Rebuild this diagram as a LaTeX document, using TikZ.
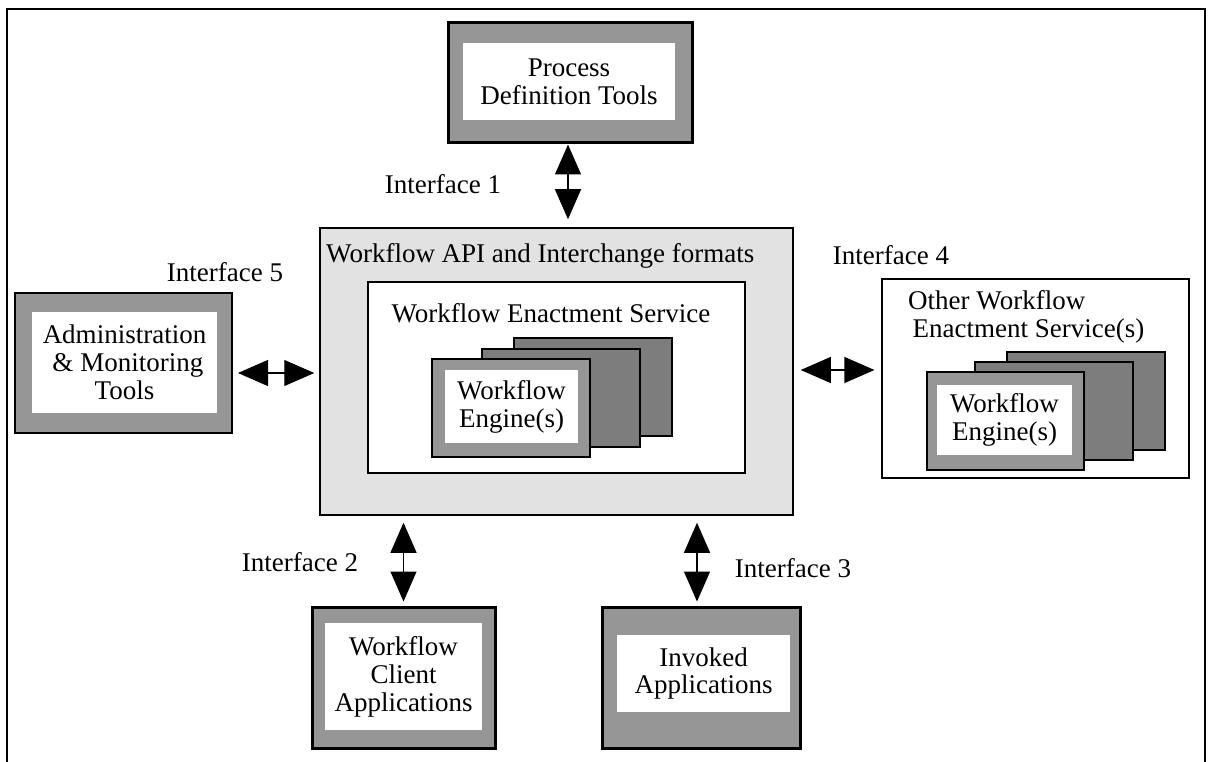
\documentclass[tikz,border=0pt]{standalone}
\usepackage{fontspec}
\setmainfont{Liberation Serif}
\usetikzlibrary{arrows.meta, calc, positioning}
\definecolor{rimgray}{RGB}{150,150,150}
\definecolor{deepgray}{RGB}{125,125,125}
\definecolor{apigray}{RGB}{226,226,226}

\begin{document}
\begin{tikzpicture}[x=1pt, y=-1pt, font={\fontsize{27}{28}\selectfont},
    rim/.style={draw, line width=3pt, fill=rimgray, inner sep=0pt},
    paper/.style={fill=white, align=center, inner sep=0pt},
    engine/.style={draw, line width=2pt, fill=deepgray, minimum width=158pt, minimum height=98pt},
    biarrow/.style={{Triangle[length=30pt,width=26pt]}-{Triangle[length=30pt,width=26pt]}, line width=1.2pt}]
    \useasboundingbox (0,0) rectangle (1212,762);
    \draw[line width=1.5pt] (7,762) -- (7,9) -- (1205,9) -- (1205,762);

    % central service
    \node[draw, line width=1.5pt, fill=apigray, minimum width=473pt, minimum height=287pt] (api) at (556.5,371.5) {};
    \node[anchor=west, inner sep=0pt] (apititle) at (326,256) {Workflow API and Interchange formats};
    \node[draw, line width=1.5pt, fill=white, minimum width=377pt, minimum height=191pt] (wes) at (556.5,377.5) {};
    \node[inner sep=0pt] (westitle) at (551,313) {Workflow Enactment Service};
    \node[engine] (eng3) at (592.5,386.5) {};
    \node[engine] (eng2) at (561,398) {};
    \node[engine, fill=rimgray] (eng1) at (511,408) {};
    \node[paper, minimum width=133pt, minimum height=73pt] (eng1in) at (511.5,406.5) {Workflow\\Engine(s)};

    % process definition
    \node[rim, minimum width=244pt, minimum height=120pt] (pdt) at (570,83) {};
    \node[paper, minimum width=212pt, minimum height=77pt] (pdtin) at (569,81.5) {Process\\Definition Tools};

    % administration
    \node[rim, line width=2pt, minimum width=217pt, minimum height=140pt] (adm) at (123.5,363) {};
    \node[paper, minimum width=185pt, minimum height=101pt] (admin) at (124.5,362.5) {Administration\\\ \& Monitoring\\Tools};

    % other service
    \node[draw, line width=1.2pt, fill=white, minimum width=307pt, minimum height=199pt] (oth) at (1035.5,378.5) {};
    \node[anchor=north west, align=left, inner sep=0pt] (othtitle) at (908,290) {Other Workflow\\\,Enactment Service(s)};
    \node[engine] (oeng3) at (1086,400.5) {};
    \node[engine] (oeng2) at (1054,411) {};
    \node[engine, fill=rimgray, minimum width=157pt] (oeng1) at (1005.5,421) {};
    \node[paper, minimum width=135pt, minimum height=70pt] (oeng1in) at (1004.5,420) {Workflow\\Engine(s)};

    % client and invoked applications
    \node[rim, minimum width=183pt, minimum height=141pt] (cli) at (403.5,677.5) {};
    \node[paper, minimum width=157pt, minimum height=107pt] (cliin) at (403.5,676.5) {Workflow\\Client\\Applications};
    \node[rim, minimum width=198pt, minimum height=141pt] (inv) at (701,677.5) {};
    \node[paper, minimum width=173pt, minimum height=77pt] (invin) at (703.5,673.5) {Invoked\\Applications};

    % interfaces
    \draw[biarrow, shorten >=8pt] ([xshift=-2pt]pdt.south) -- ([xshift=-2pt]pdt.south |- api.north);
    \draw[biarrow, shorten <=5pt, shorten >=5pt] ([yshift=-10pt]adm.east) -- ([yshift=-10pt]adm.east -| api.west);
    \draw[biarrow, shorten <=7pt, shorten >=7pt] ([yshift=8.5pt]oth.west -| api.east) -- ([yshift=8.5pt]oth.west);
    \draw[biarrow, shorten <=7pt, shorten >=4pt] (api.south -| cli.north) -- (cli.north);
    \draw[biarrow, shorten <=7pt, shorten >=4pt] ([xshift=-4pt]api.south -| inv.north) -- ([xshift=-4pt]inv.north);
    \node (if1) at (443,184) {Interface 1};
    \node (if2) at (300,562) {Interface 2};
    \node (if3) at (793,568) {Interface 3};
    \node (if4) at (891,255) {Interface 4};
    \node (if5) at (225,272) {Interface 5};
\end{tikzpicture}
\end{document}
